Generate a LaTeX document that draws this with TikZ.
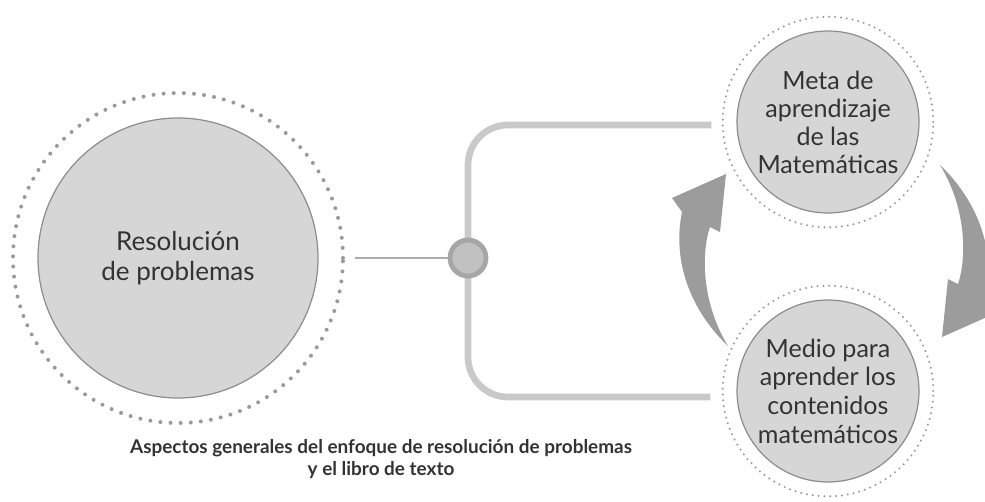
\documentclass[tikz,border=0pt]{standalone}
\usepackage{fontspec}
\setmainfont{Lato}
\usepackage{tikz}
\usetikzlibrary{calc}
\definecolor{discfill}{HTML}{D6D6D6}
\definecolor{discline}{HTML}{8C8C8C}
\definecolor{dotgray}{HTML}{9A9A9A}
\definecolor{arrowgray}{HTML}{9C9C9C}
\definecolor{bracketgray}{HTML}{C9C9C9}
\definecolor{txtgray}{HTML}{333333}

\begin{document}
\begin{tikzpicture}[x=0.75pt,y=-0.75pt,
  disc/.style={circle, draw=discline, line width=0.9pt, fill=discfill, text=txtgray, align=center, inner sep=0pt},
  bigring/.style={dotgray, line width=3pt, line cap=round, dash pattern=on 0pt off 7.6pt},
  smallring/.style={dotgray, line width=1.7pt, line cap=round, dash pattern=on 0pt off 4.4pt},
  bracket/.style={bracketgray, line width=5pt, rounded corners=30pt},
  junc/.style={circle, draw=arrowgray!90, line width=3.6pt, fill=discfill!90!black, minimum size=27pt, inner sep=0pt}]
\useasboundingbox (0,0) rectangle (985,501);
\clip (0,0) rectangle (985,501);
% left circle
\node[disc, minimum size=210pt, font=\fontsize{19.5}{22.5}\selectfont] (rp) at (178,258) {Resolución\\de problemas};
\draw[bigring] (rp.center) circle (123.75pt);
% right circles
\node[disc, minimum size=136.5pt, font=\fontsize{18.8}{21}\selectfont] (mt) at (828,122) {Meta de\\aprendizaje\\de las\\Matemáticas};
\draw[smallring] (mt.center) circle (79pt);
\node[disc, minimum size=136.5pt, font=\fontsize{18.8}{21.5}\selectfont] (mm) at (828,391) {Medio para\\aprender los\\contenidos\\matemáticos};
\draw[smallring] (mm.center) circle (79pt);
% bracket and junction
\draw[bracket] ($(mt.west)+(-25,3)$) -| (468,258) |- ($(mm.west)+(-26,6)$);
\draw[bracketgray!85!black, line width=2.2pt] ($(rp.center)+(177,0)$) -- (468,258);
\node[junc] (jn) at (468,258) {};
% curved arrows
\fill[arrowgray] (728,346) .. controls (690,310) and (672,260) .. (682,212) -- (672,198) -- (726,174) -- (720,232) -- (710,227) .. controls (702,250) and (700,300) .. (728,346) -- cycle;
\fill[arrowgray] (940,165) .. controls (978,201) and (996,251) .. (986,299) -- (996,313) -- (942,337) -- (948,279) -- (958,284) .. controls (966,261) and (968,211) .. (940,165) -- cycle;
% caption
\node[text=txtgray, align=center, font=\bfseries\fontsize{14.2}{16.5}\selectfont] (cap) at (381,459) {Aspectos generales del enfoque de resolución de problemas\\y el libro de texto};
\end{tikzpicture}
\end{document}
